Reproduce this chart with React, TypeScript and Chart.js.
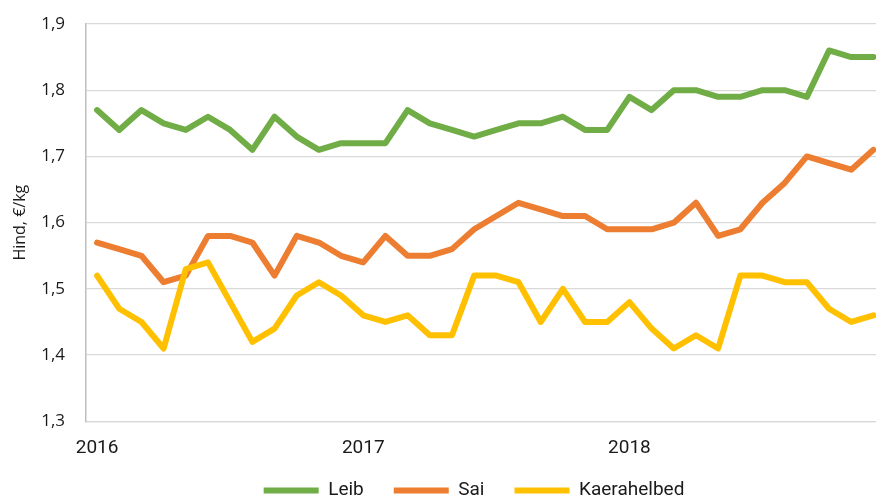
import React, { useEffect, useRef } from "react";
import { Chart, registerables } from "chart.js";

Chart.register(...registerables);

const years = ["2016", "2017", "2018"];
const months = ["01", "02", "03", "04", "05", "06", "07", "08", "09", "10", "11", "12"];
const categories = years.flatMap((y) => months.map((m) => `${y}-${m}`));

const leib = [
  1.77, 1.74, 1.77, 1.75, 1.74, 1.76, 1.74, 1.71, 1.76, 1.73, 1.71, 1.72,
  1.72, 1.72, 1.77, 1.75, 1.74, 1.73, 1.74, 1.75, 1.75, 1.76, 1.74, 1.74,
  1.79, 1.77, 1.80, 1.80, 1.79, 1.79, 1.80, 1.80, 1.79, 1.86, 1.85, 1.85,
];
const sai = [
  1.57, 1.56, 1.55, 1.51, 1.52, 1.58, 1.58, 1.57, 1.52, 1.58, 1.57, 1.55,
  1.54, 1.58, 1.55, 1.55, 1.56, 1.59, 1.61, 1.63, 1.62, 1.61, 1.61, 1.59,
  1.59, 1.59, 1.60, 1.63, 1.58, 1.59, 1.63, 1.66, 1.70, 1.69, 1.68, 1.71,
];
const kaerahelbed = [
  1.52, 1.47, 1.45, 1.41, 1.53, 1.54, 1.48, 1.42, 1.44, 1.49, 1.51, 1.49,
  1.46, 1.45, 1.46, 1.43, 1.43, 1.52, 1.52, 1.51, 1.45, 1.50, 1.45, 1.45,
  1.48, 1.44, 1.41, 1.43, 1.41, 1.52, 1.52, 1.51, 1.51, 1.47, 1.45, 1.46,
];

const seriesNames = ["Leib", "Sai", "Kaerahelbed"];
const seriesColors = ["#70AD47", "#ED7D31", "#FFC000"];

const yMin = 1.3;
const yMax = 1.9;
const yStep = 0.1;
const yTitle = "Hind, €/kg";

export default function App() {
  const canvasRef = useRef<HTMLCanvasElement | null>(null);

  useEffect(() => {
    if (!canvasRef.current) return;
    const seriesData = [leib, sai, kaerahelbed];
    const chart = new Chart(canvasRef.current, {
      type: "line",
      data: {
        labels: categories,
        datasets: seriesData.map((d, i) => ({
          label: seriesNames[i],
          data: d,
          borderColor: seriesColors[i],
          backgroundColor: seriesColors[i],
          borderWidth: 6,
          borderCapStyle: "round",
          borderJoinStyle: "round",
          pointRadius: 0,
          pointHoverRadius: 0,
          tension: 0,
          fill: false,
          order: 3 - i,
        })),
      },
      options: {
        animation: false,
        responsive: true,
        maintainAspectRatio: false,
        layout: { autoPadding: false, padding: { top: 24, left: 0, right: 0, bottom: 0 } },
        plugins: {
          tooltip: { enabled: false },
          legend: {
            position: "bottom",
            labels: {
              usePointStyle: true,
              pointStyle: "line",
              pointStyleWidth: 55,
              padding: 30,
              color: "#1a1a1a",
              font: { family: "Roboto", size: 19 },
              sort: (a: any, b: any) => a.datasetIndex - b.datasetIndex,
            },
          },
        },
        scales: {
          x: {
            type: "category",
            offset: true,
            grid: { display: false, drawTicks: false },
            border: { display: true, color: "#d9d9d9", width: 1.3 },
            ticks: {
              autoSkip: false,
              maxRotation: 0,
              minRotation: 0,
              padding: 16,
              color: "#1a1a1a",
              font: { family: "Roboto", size: 19 },
              callback: function (this: any, value: any) {
                const lab = String(this.getLabelForValue(value));
                return lab.endsWith("-01") ? lab.slice(0, 4) : "";
              },
            },
            afterFit: (s: any) => {
              s.height = 29.7;
              s.paddingLeft = 0;
              s.paddingRight = 0;
              s._computeLabelArea = () => undefined;
            },
          },
          y: {
            type: "linear",
            position: "left",
            min: yMin,
            max: yMax,
            grid: { color: "#d9d9d9", lineWidth: 1.3, drawTicks: false },
            border: { display: true, color: "#bfbfbf", width: 1.5 },
            ticks: {
              stepSize: yStep,
              padding: 21,
              color: "#1a1a1a",
              font: { family: "'Open Sans'", size: 17 },
              callback: (v: any) => Number(v).toFixed(1).replace(".", ","),
            },
            title: {
              display: true,
              text: yTitle,
              color: "#1a1a1a",
              font: { family: "'Open Sans'", size: 16 },
              padding: { top: 11, bottom: 0 },
            },
            afterFit: (s: any) => {
              s.width = 86;
              s.paddingTop = 0;
              s.paddingBottom = 0;
            },
          },
          yRight: {
            type: "linear",
            position: "right",
            display: true,
            grid: { display: false, drawTicks: false },
            border: { display: false },
            ticks: { display: false },
            afterFit: (s: any) => {
              s.width = 63.5;
              s.paddingTop = 0;
              s.paddingBottom = 0;
            },
          },
        },
      },
    });
    return () => chart.destroy();
  }, []);

  return (
    <div
      style={{
        position: "fixed",
        left: 0,
        top: 0,
        width: 876,
        height: 498,
        overflow: "hidden",
        background: "#fff",
      }}
    >
      <div style={{ position: "relative", width: 948, height: 510 }}>
        <canvas ref={canvasRef} />
      </div>
    </div>
  );
}
